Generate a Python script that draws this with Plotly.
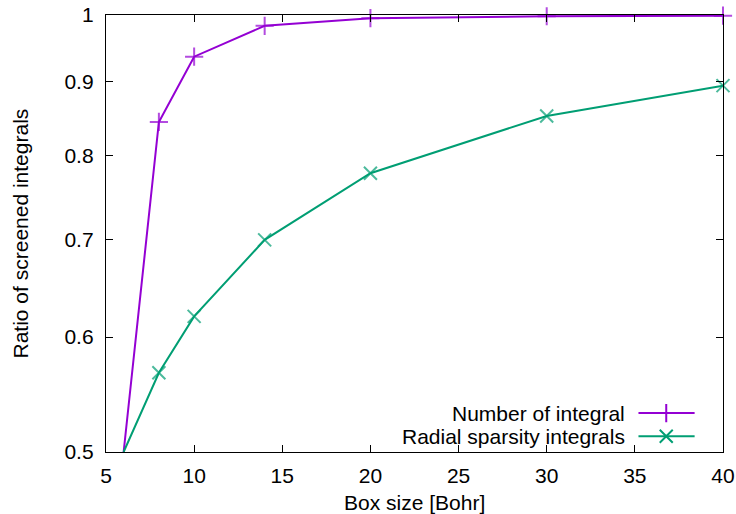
import plotly.graph_objects as go

box_size = [6, 8, 10, 14, 20, 30, 40]
number_of_integral = [0.5, 0.844, 0.936, 0.983, 0.995, 0.998, 0.999]
radial_sparsity = [0.5, 0.567, 0.620, 0.700, 0.778, 0.852, 0.894]

series_names = ["Number of integral", "Radial sparsity integrals"]
series_colors = ["#9400D3", "#009E73"]
series_symbols = ["cross-thin", "x-thin"]

y_ticks = [0.5, 0.6, 0.7, 0.8, 0.9, 1.0]
y_tick_text = ["0.5", "0.6", "0.7", "0.8", "0.9", "1"]
x_ticks = [5, 10, 15, 20, 25, 30, 35, 40]

FONT = "Liberation Sans, Arial, sans-serif"
FS = 21
MSIZE = 13

fig = go.Figure()
for name, ys, color, sym in zip(series_names, [number_of_integral, radial_sparsity],
                                series_colors, series_symbols):
    # points lying on the lower border of the box are not marked
    sizes = [0 if v <= y_ticks[0] else MSIZE for v in ys]
    fig.add_trace(go.Scatter(
        x=box_size, y=ys, name=name, mode="lines+markers",
        line=dict(color=color, width=2),
        marker=dict(symbol=sym, size=sizes, line=dict(color=color, width=2), color=color),
        showlegend=False, cliponaxis=False,
    ))

# Key drawn in the lower right: label on the left, sample line and marker on the right
key_y = [0.089, 0.036]
for name, color, sym, ky in zip(series_names, series_colors, series_symbols, key_y):
    fig.add_trace(go.Scatter(
        x=[0.863, 0.954], y=[ky, ky], mode="lines",
        line=dict(color=color, width=2), xaxis="x2", yaxis="y2",
        showlegend=False, hoverinfo="skip",
    ))
    fig.add_trace(go.Scatter(
        x=[0.908], y=[ky], mode="markers",
        marker=dict(symbol=sym, size=MSIZE, line=dict(color=color, width=2), color=color),
        xaxis="x2", yaxis="y2", showlegend=False, hoverinfo="skip",
    ))
    fig.add_annotation(
        x=0.844, y=ky, xref="x2", yref="y2", text=name, showarrow=False,
        xanchor="right", yanchor="middle", font=dict(size=FS, color="black", family=FONT),
    )

# Axis titles
fig.add_annotation(
    x=0.5, y=0, xref="paper", yref="paper", yshift=-50, yanchor="middle",
    text="Box size [Bohr]", showarrow=False, font=dict(size=FS, color="black", family=FONT),
)
fig.add_annotation(
    x=0, y=0.5, xref="paper", yref="paper", xshift=-86, xanchor="center",
    text="Ratio of screened integrals", textangle=-90, showarrow=False,
    font=dict(size=FS, color="black", family=FONT),
)

axis_common = dict(
    showline=True, linecolor="black", linewidth=1.3, mirror="ticks",
    ticks="inside", ticklen=7, tickwidth=1, tickcolor="black",
    showgrid=False, zeroline=False, automargin=False,
    tickfont=dict(size=FS, color="black", family=FONT),
)

fig.update_layout(
    width=736, height=514,
    margin=dict(l=106, r=13, t=15, b=62),
    paper_bgcolor="white", plot_bgcolor="white",
    font=dict(family=FONT, color="black"),
    xaxis=dict(range=[5, 40], tickvals=x_ticks, ticklabelstandoff=5, **axis_common),
    yaxis=dict(type="log", range=[-0.30103, 0], tickvals=y_ticks,
               ticktext=y_tick_text, ticklabelstandoff=7, **axis_common),
    xaxis2=dict(range=[0, 1], overlaying="x", visible=False, fixedrange=True),
    yaxis2=dict(range=[0, 1], overlaying="y", visible=False, fixedrange=True),
)

fig.write_html("out.html")
